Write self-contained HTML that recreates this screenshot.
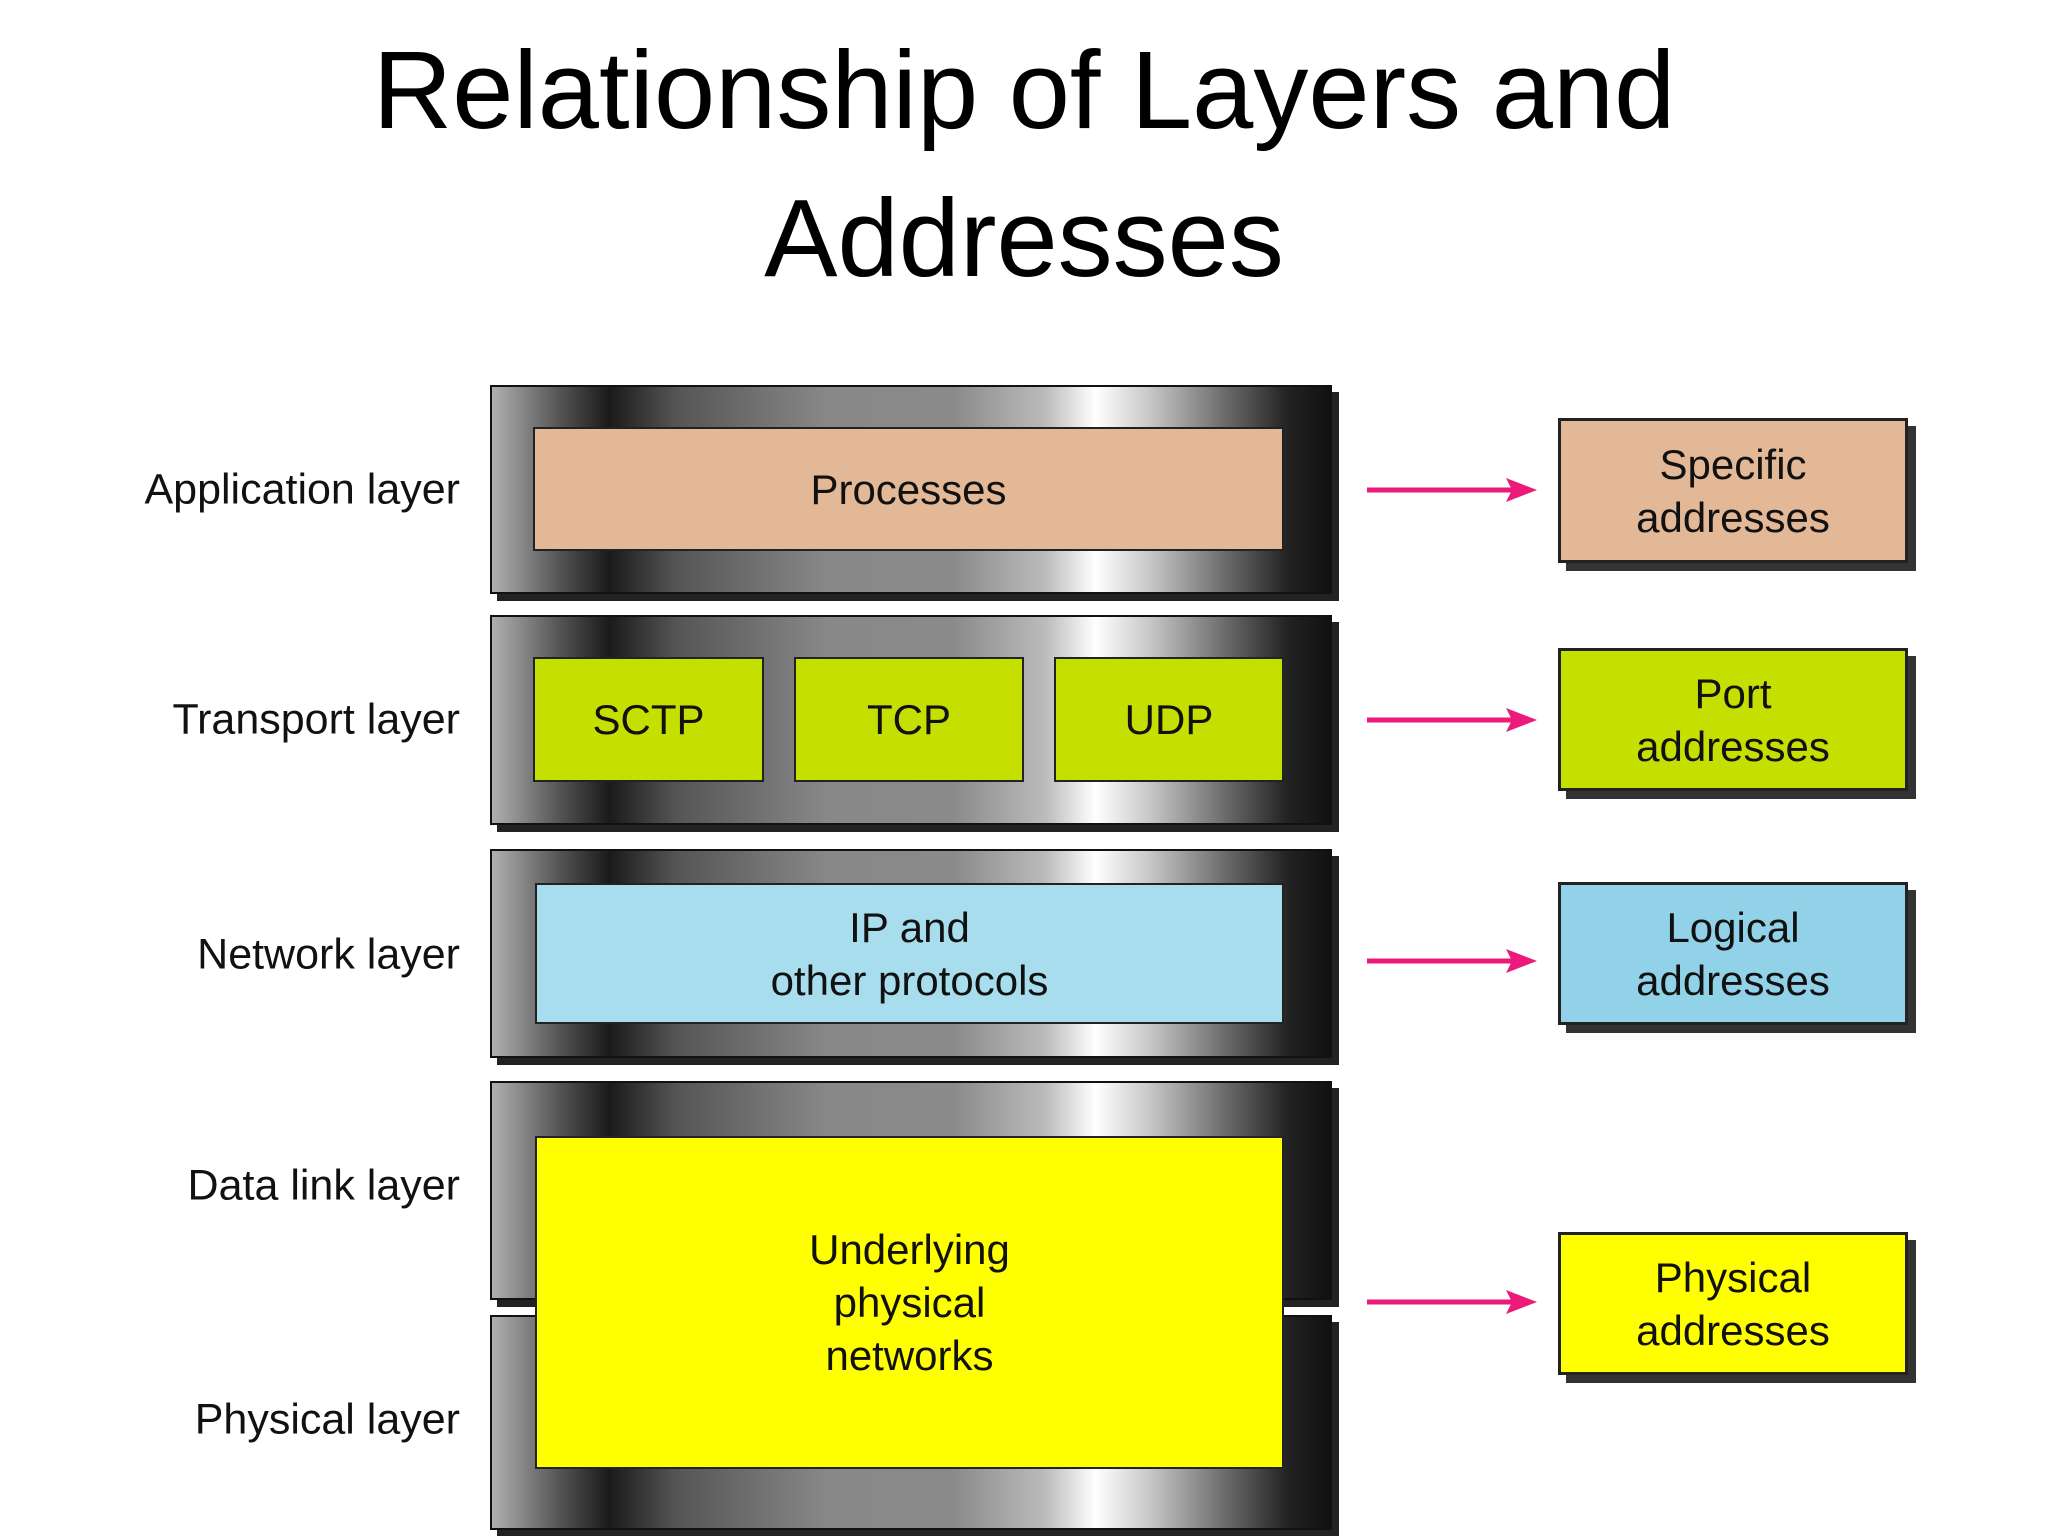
<!DOCTYPE html>
<html><head><meta charset="utf-8"><style>
body{margin:0;width:2048px;height:1536px;background:#fff;position:relative;overflow:hidden;font-family:"Liberation Sans",sans-serif}
.a{position:absolute;box-sizing:border-box}
.title{left:0;width:2048px;text-align:center;font-size:110px;color:#000;line-height:148px}
.outer{border:2px solid #111;background:linear-gradient(90deg,#b0b0b0 0%,#555 8%,#1a1a1a 14%,#555 22%,#888 40%,#8a8a8a 55%,#bbb 66%,#fff 72%,#ccc 78%,#666 88%,#222 95%,#111 100%);box-shadow:7px 7px 0 #222}
.in{border:2px solid #222;display:flex;align-items:center;justify-content:center;text-align:center;font-size:42px;line-height:53px;color:#111}
.lab{right:1588px;font-size:43px;color:#111;text-align:right;white-space:nowrap;transform:translateY(-50%)}
.rb{border:3px solid #222;box-shadow:8px 8px 0 #333;display:flex;align-items:center;justify-content:center;text-align:center;font-size:42px;line-height:53px;color:#111}
</style></head><body>
<div class="a title" style="top:17px">Relationship of Layers and<br>Addresses</div>

<div class="a outer" style="left:490px;top:385px;width:842px;height:209px"></div>
<div class="a outer" style="left:490px;top:615px;width:842px;height:210px"></div>
<div class="a outer" style="left:490px;top:849px;width:842px;height:209px"></div>
<div class="a outer" style="left:490px;top:1081px;width:842px;height:219px"></div>
<div class="a outer" style="left:490px;top:1315px;width:842px;height:215px"></div>

<div class="a in" style="left:533px;top:427px;width:751px;height:124px;background:#e3b896">Processes</div>
<div class="a in" style="left:533px;top:657px;width:231px;height:125px;background:#c5e000">SCTP</div>
<div class="a in" style="left:794px;top:657px;width:230px;height:125px;background:#c5e000">TCP</div>
<div class="a in" style="left:1054px;top:657px;width:230px;height:125px;background:#c5e000">UDP</div>
<div class="a in" style="left:535px;top:883px;width:749px;height:141px;background:#a8ddee">IP and<br>other protocols</div>
<div class="a in" style="left:535px;top:1136px;width:749px;height:333px;background:#ffff00">Underlying<br>physical<br>networks</div>

<div class="a lab" style="top:490px">Application layer</div>
<div class="a lab" style="top:720px">Transport layer</div>
<div class="a lab" style="top:955px">Network layer</div>
<div class="a lab" style="top:1186px">Data link layer</div>
<div class="a lab" style="top:1420px">Physical layer</div>

<svg class="a" style="left:0;top:0" width="2048" height="1536">
<g stroke="#ec1a7a" stroke-width="5" fill="#ec1a7a">
<line x1="1367" y1="490" x2="1520" y2="490"/><polygon points="1537,490 1506,478 1512,490 1506,502" stroke="none"/>
<line x1="1367" y1="720" x2="1520" y2="720"/><polygon points="1537,720 1506,708 1512,720 1506,732" stroke="none"/>
<line x1="1367" y1="961" x2="1520" y2="961"/><polygon points="1537,961 1506,949 1512,961 1506,973" stroke="none"/>
<line x1="1367" y1="1302" x2="1520" y2="1302"/><polygon points="1537,1302 1506,1290 1512,1302 1506,1314" stroke="none"/>
</g></svg>

<div class="a rb" style="left:1558px;top:418px;width:350px;height:145px;background:#e3b896">Specific<br>addresses</div>
<div class="a rb" style="left:1558px;top:648px;width:350px;height:143px;background:#c5e000">Port<br>addresses</div>
<div class="a rb" style="left:1558px;top:882px;width:350px;height:143px;background:#92d2e8">Logical<br>addresses</div>
<div class="a rb" style="left:1558px;top:1232px;width:350px;height:143px;background:#ffff00">Physical<br>addresses</div>
</body></html>
